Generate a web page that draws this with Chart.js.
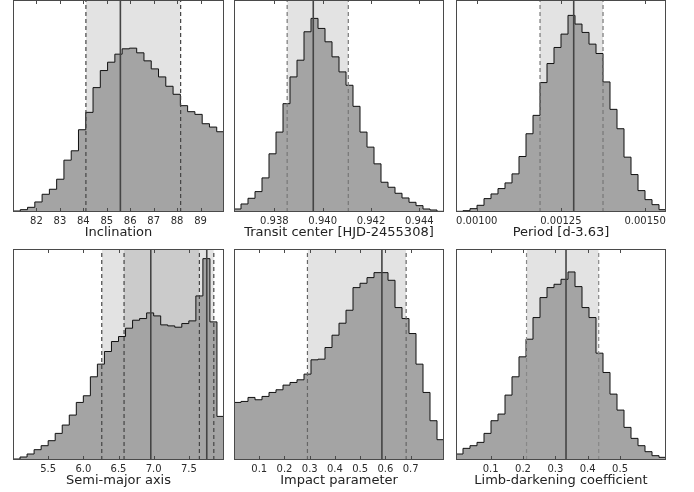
<!DOCTYPE html>
<html><head><meta charset="utf-8">
<script src="https://cdn.jsdelivr.net/npm/chart.js@4.4.1/dist/chart.umd.min.js"></script>
<style>
html,body{margin:0;padding:0;background:#fff;width:694px;height:492px;overflow:hidden;position:relative}
canvas{position:absolute}
</style></head><body>
<canvas id="c1"></canvas><canvas id="c2"></canvas><canvas id="c3"></canvas>
<canvas id="c4"></canvas><canvas id="c5"></canvas><canvas id="c6"></canvas>
<script>
// ---------- data ----------
const YMAX = 634;

const inclRange = [81, 90];
const inclCounts = [3, 7, 14, 30, 53, 68, 98, 155, 183, 246, 298, 372, 423, 448, 472, 488, 490, 476, 452, 428, 404, 376, 352, 318, 300, 292, 264, 254, 240];
const inclTicks = [82, 83, 84, 85, 86, 87, 88, 89];
const inclMedians = [85.58];
const inclIntervals = [[84.11, 88.15]];

const tcRange = [0.93633, 0.94502];
const tcCounts = [9, 24, 41, 61, 102, 174, 239, 324, 404, 454, 539, 579, 549, 509, 464, 419, 379, 316, 239, 194, 144, 89, 74, 56, 42, 29, 19, 9, 6, 2];
const tcTicks = [0.938, 0.940, 0.942, 0.944];
const tcMedians = [0.93961];
const tcIntervals = [[0.93853, 0.94106]];

const perRange = [0.0009385, 0.001562];
const perCounts = [2, 4, 10, 20, 40, 54, 70, 87, 114, 166, 234, 289, 387, 444, 492, 532, 588, 562, 537, 502, 474, 389, 307, 249, 164, 112, 64, 37, 22, 7];
const perTicks = [0.00100, 0.00125, 0.00150];
const perMedians = [0.001288];
const perIntervals = [[0.001188, 0.001375]];

const smaRange = [5.0, 8.0];
const smaCounts = [3, 9, 18, 31, 43, 58, 80, 105, 135, 173, 193, 250, 288, 326, 356, 371, 396, 420, 425, 442, 433, 406, 403, 399, 410, 418, 493, 605, 415, 131];
const smaTicks = [5.5, 6.0, 6.5, 7.0, 7.5];
const smaMedians = [6.959, 7.755];
const smaIntervals = [[6.262, 7.855], [6.579, 7.650]];

const impRange = [0.0, 0.832];
const impCounts = [173, 176, 188, 181, 191, 203, 211, 225, 233, 241, 258, 301, 303, 338, 375, 411, 450, 518, 531, 548, 563, 563, 540, 458, 425, 380, 288, 203, 118, 61];
const impTicks = [0.1, 0.2, 0.3, 0.4, 0.5, 0.6, 0.7];
const impMedians = [0.586];
const impIntervals = [[0.291, 0.682]];

const ldRange = [-0.007, 0.642];
const ldCounts = [18, 35, 43, 53, 80, 118, 138, 195, 250, 310, 363, 428, 488, 518, 528, 543, 565, 521, 458, 428, 321, 263, 198, 150, 98, 65, 43, 25, 13, 8];
const ldTicks = [0.1, 0.2, 0.3, 0.4, 0.5];
const ldMedians = [0.333];
const ldIntervals = [[0.211, 0.434]];

// ---------- drawing ----------
Chart.defaults.font.family = "'DejaVu Sans', sans-serif";
const PAD_L = 20, PAD_R = 20, PAD_T = 4, AXIS_H = 28;

const framePlugin = {
  id: 'frame',
  afterDatasetsDraw(chart) {
    const {ctx, chartArea: a, scales: {x}} = chart;
    ctx.save();
    ctx.strokeStyle = '#4a4a4a';
    ctx.lineWidth = 1;
    ctx.strokeRect(a.left + 0.5, a.top + 0.5, a.right - a.left - 1, a.bottom - a.top - 1);
    ctx.beginPath();
    x.ticks.forEach(t => {
      const px = Math.round(x.getPixelForValue(t.value)) + 0.5;
      ctx.moveTo(px, a.bottom); ctx.lineTo(px, a.bottom - 4);
      ctx.moveTo(px, a.top); ctx.lineTo(px, a.top + 4);
    });
    ctx.stroke();
    ctx.restore();
  }
};

function histPoints(range, counts) {
  const n = counts.length, w = (range[1] - range[0]) / n;
  const pts = [{x: range[0], y: 0}];
  counts.forEach((c, i) => pts.push({x: range[0] + i * w, y: c}));
  pts.push({x: range[1], y: 0});
  return pts;
}

function makePanel(id, box, title, range, counts, ticks, medians, intervals, decimals, dashColor) {
  const cv = document.getElementById(id);
  const W = box.w + PAD_L + PAD_R, H = PAD_T + box.h + AXIS_H;
  cv.width = W; cv.height = H;
  cv.style.width = W + 'px'; cv.style.height = H + 'px';
  cv.style.left = (box.x - PAD_L) + 'px';
  cv.style.top = (box.y - PAD_T) + 'px';

  const datasets = [];
  medians.forEach(m => datasets.push({
    data: [{x: m, y: 0}, {x: m, y: YMAX}], borderColor: '#444', borderWidth: 1.6,
    pointRadius: 0, fill: false, order: 0
  }));
  intervals.forEach(iv => iv.forEach(v => datasets.push({
    data: [{x: v, y: 0}, {x: v, y: YMAX}], borderColor: dashColor, borderWidth: 1.2,
    borderDash: [4, 3], pointRadius: 0, fill: false, order: 0
  })));
  datasets.push({
    data: histPoints(range, counts), stepped: 'before', fill: 'origin',
    backgroundColor: '#a4a4a4', borderColor: '#111', borderWidth: 1,
    pointRadius: 0, order: 1
  });
  intervals.forEach(iv => datasets.push({
    data: [{x: iv[0], y: YMAX}, {x: iv[1], y: YMAX}], fill: 'origin',
    backgroundColor: 'rgba(0,0,0,0.11)', borderColor: 'rgba(0,0,0,0)', borderWidth: 0,
    pointRadius: 0, order: 2
  }));

  new Chart(cv, {
    type: 'line',
    data: {datasets},
    plugins: [framePlugin],
    options: {
      responsive: false, animation: false, devicePixelRatio: 1,
      layout: {padding: {left: PAD_L, right: PAD_R, top: PAD_T, bottom: 0}},
      plugins: {legend: {display: false}, tooltip: {enabled: false}},
      elements: {line: {tension: 0}},
      scales: {
        x: {
          type: 'linear', min: range[0], max: range[1],
          afterBuildTicks: s => { s.ticks = ticks.map(v => ({value: v})); },
          afterFit: s => { s.height = AXIS_H; s.paddingLeft = 0; s.paddingRight = 0; },
          ticks: {
            autoSkip: false, maxRotation: 0, minRotation: 0, padding: 3,
            color: '#2b2b2b', font: {size: 10},
            callback: v => Number(v).toFixed(decimals)
          },
          grid: {display: false, drawTicks: false},
          border: {display: false},
          title: {display: true, text: title, color: '#222', font: {size: 13}, padding: 0}
        },
        y: {display: false, min: 0, max: YMAX}
      }
    }
  });
}

makePanel('c1', {x: 13, y: 0, w: 211, h: 212}, 'Inclination', inclRange, inclCounts, inclTicks, inclMedians, inclIntervals, 0, '#444');
makePanel('c2', {x: 234, y: 0, w: 210, h: 212}, 'Transit center [HJD-2455308]', tcRange, tcCounts, tcTicks, tcMedians, tcIntervals, 3, '#777');
makePanel('c3', {x: 456, y: 0, w: 210, h: 212}, 'Period [d-3.63]', perRange, perCounts, perTicks, perMedians, perIntervals, 5, '#777');
makePanel('c4', {x: 13, y: 249, w: 211, h: 211}, 'Semi-major axis', smaRange, smaCounts, smaTicks, smaMedians, smaIntervals, 1, '#444');
makePanel('c5', {x: 234, y: 249, w: 210, h: 211}, 'Impact parameter', impRange, impCounts, impTicks, impMedians, impIntervals, 1, '#666');
makePanel('c6', {x: 456, y: 249, w: 210, h: 211}, 'Limb-darkening coefficient', ldRange, ldCounts, ldTicks, ldMedians, ldIntervals, 1, '#888');
</script>
</body></html>
